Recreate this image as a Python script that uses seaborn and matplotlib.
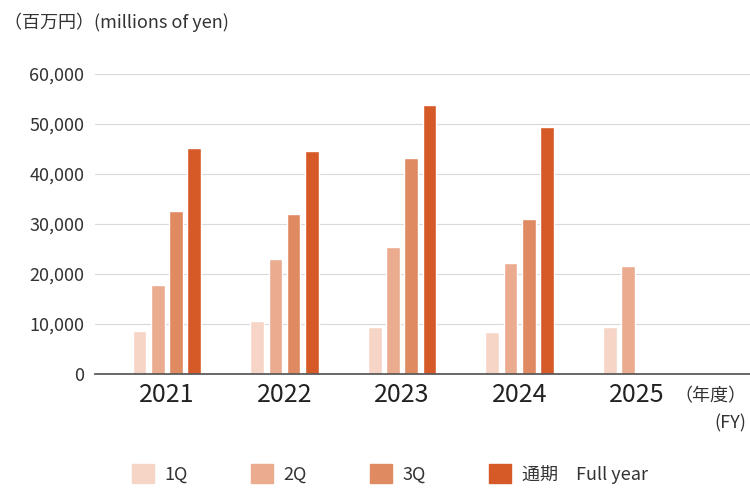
import matplotlib
matplotlib.use("Agg")
import matplotlib.pyplot as plt
import seaborn as sns
import pandas as pd
from matplotlib.patches import Patch

years = ["2021", "2022", "2023", "2024", "2025"]
q1 = [8600, 10600, 9400, 8400, 9400]
q2 = [17800, 23000, 25400, 22200, 21600]
q3 = [32600, 32000, 43200, 31000, None]
fy = [45200, 44600, 53800, 49400, None]
series = ["1Q", "2Q", "3Q", "通期　Full year"]
colors = ["#f6d5c7", "#ebab8e", "#e08a62", "#d65a28"]

rows = []
for s, vals in zip(series, [q1, q2, q3, fy]):
    for y, v in zip(years, vals):
        rows.append({"year": y, "series": s, "value": v})
df = pd.DataFrame(rows)

sns.set_theme(style="white")
plt.rcParams['font.family'] = ['Noto Sans CJK JP', 'DejaVu Sans']

fig = plt.figure(figsize=(7.5, 5), dpi=100)
ax = fig.add_axes([0.127, 0.252, 0.873, 0.6])
sns.barplot(data=df, x="year", y="value", hue="series", palette=colors,
            width=0.62, gap=0.25, ax=ax, legend=False, saturation=1)
ax.set_ylim(0, 60000)
ax.set_xlim(-0.61, 4.96)
ax.set_yticks(range(0, 60001, 10000))
ax.set_yticklabels([f"{v:,}" for v in range(0, 60001, 10000)], fontsize=13, color="#333")
ax.tick_params(axis="x", labelsize=18, colors="#222", length=0, pad=6)
ax.tick_params(axis="y", length=0, pad=8)
ax.yaxis.grid(True, color="#d9d9d9", linewidth=0.8)
ax.set_axisbelow(True)
for sp in ["top", "right", "left"]:
    ax.spines[sp].set_visible(False)
ax.spines["bottom"].set_color("#555")
ax.set_xlabel("")
ax.set_ylabel("")
fig.text(0.005, 0.955, "（百万円）(millions of yen)", fontsize=13, color="#333", va="center")
fig.text(0.995, 0.18, "（年度）\n(FY)", fontsize=13, color="#333", ha="right", va="center",
         multialignment="right", linespacing=1.6)
handles = [Patch(color=c) for c in colors]
fig.legend(handles, series, loc="lower center", bbox_to_anchor=(0.52, 0.0), ncol=4,
           frameon=False, fontsize=13, handlelength=1.2, handleheight=1.2,
           columnspacing=3.5, handletextpad=0.6, labelcolor="#333")
fig.savefig("out.png", dpi=100)
